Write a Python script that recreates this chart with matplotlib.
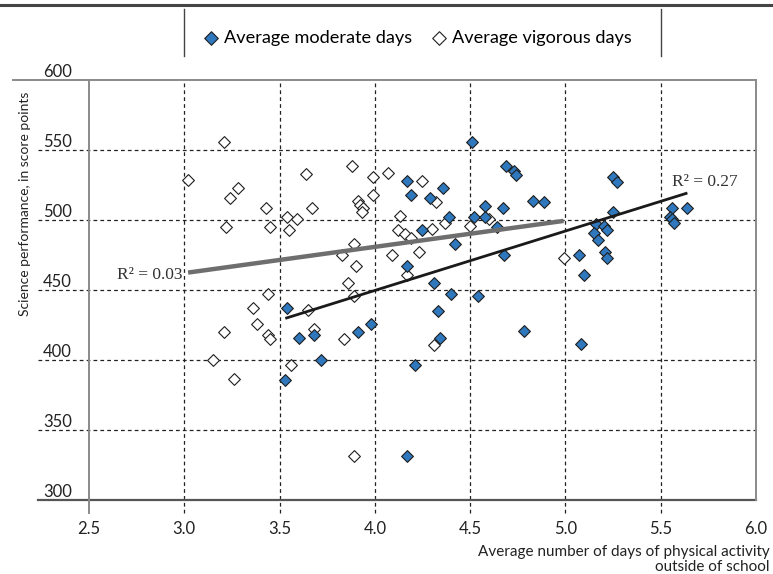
import numpy as np
import matplotlib
matplotlib.use("Agg")
import matplotlib.pyplot as plt
from matplotlib.lines import Line2D

# Average number of days of moderate physical activity and science score, per country
moderate_days = [4.51, 4.69, 4.73, 4.74, 4.17, 4.36, 4.19, 4.29, 4.58, 4.67,
                 4.83, 4.89, 4.39, 4.52, 4.58, 4.64, 4.25, 4.42, 4.68, 4.17,
                 4.31, 4.40, 4.54, 4.33, 3.54, 3.60, 3.68, 3.91, 3.98, 3.72,
                 3.53, 4.34, 4.21, 4.78, 4.17, 5.25, 5.27, 5.25, 5.56, 5.64,
                 5.55, 5.56, 5.57, 5.16, 5.20, 5.22, 5.15, 5.17, 5.07, 5.21,
                 5.22, 5.10, 5.08]
moderate_score = [556, 539, 535, 532, 528, 523, 518, 516, 510, 509,
                  514, 513, 502, 502, 502, 495, 493, 483, 475, 467,
                  455, 447, 446, 435, 437, 416, 418, 420, 426, 400,
                  386, 416, 397, 421, 332, 531, 527, 506, 509, 509,
                  502, 501, 498, 497, 496, 493, 491, 486, 475, 477,
                  473, 461, 412]

# Average number of days of vigorous physical activity and science score, per country
vigorous_days = [3.21, 3.02, 3.28, 3.24, 3.43, 3.64, 3.67, 3.54, 3.59, 3.22,
                 3.45, 3.55, 3.44, 3.36, 3.65, 3.38, 3.21, 3.44, 3.45, 3.68,
                 3.15, 3.26, 3.56, 3.88, 3.99, 4.07, 4.25, 3.91, 3.92, 3.94,
                 3.93, 3.99, 4.32, 4.13, 4.12, 4.16, 4.19, 4.30, 4.37, 4.50,
                 4.60, 3.89, 3.83, 4.09, 4.23, 3.90, 4.17, 3.86, 3.89, 3.84,
                 4.31, 3.89, 4.99]
vigorous_score = [556, 529, 523, 516, 509, 533, 509, 502, 501, 495,
                  495, 493, 447, 437, 436, 426, 420, 418, 415, 422,
                  400, 387, 397, 539, 531, 534, 528, 514, 511, 509,
                  506, 518, 513, 503, 493, 490, 487, 494, 498, 496,
                  501, 483, 475, 475, 477, 467, 461, 455, 446, 415,
                  411, 332, 473]

r2_labels = ["R\u00b2 = 0.27", "R\u00b2 = 0.03"]
legend_labels = ["Average moderate days", "Average vigorous days"]
x_ticks = [2.5, 3.0, 3.5, 4.0, 4.5, 5.0, 5.5, 6.0]
y_ticks = [300, 350, 400, 450, 500, 550, 600]
x_label = "Average number of days of physical activity\noutside of school"
y_label = "Science performance, in score points"

BLUE = "#2f78bd"
EDGE = "#1e1e1e"
SANS = ["Lato", "DejaVu Sans"]
SERIF = ["Liberation Serif", "DejaVu Serif"]

plt.rcParams["font.family"] = SANS

fig = plt.figure(figsize=(7.73, 5.74), dpi=100)
ax = fig.add_axes([89 / 773, 1 - 500.5 / 574, 667 / 773, 420.5 / 574])
ax.set_xlim(x_ticks[0], x_ticks[-1])
ax.set_ylim(y_ticks[0], y_ticks[-1])

# spines
for side in ("top", "bottom"):
    ax.spines[side].set_visible(False)
ax.spines["left"].set_color("#8a8a8a")
ax.spines["left"].set_linewidth(1.4)
ax.spines["right"].set_color("#8a8a8a")
ax.spines["right"].set_linewidth(1.4)

xt = ax.get_xaxis_transform()
yt = ax.get_yaxis_transform()

# dashed grid, extended slightly outside the axes
for xv in x_ticks[1:-1]:
    ax.plot([xv, xv], [-0.029, 1], transform=xt, color="#222222", lw=0.9,
            ls=(0, (3, 2.5)), clip_on=False, zorder=1)
for yv in y_ticks[1:-1]:
    ax.plot([-0.077, 1], [yv, yv], transform=yt, color="#222222", lw=0.9,
            ls=(0, (3, 2.5)), clip_on=False, zorder=1)
ax.plot([-0.1145, 1], [y_ticks[-1]] * 2, transform=yt, color="#8a8a8a",
        lw=1.4, clip_on=False, zorder=2)
ax.plot([-0.077, 1], [y_ticks[0]] * 2, transform=yt, color="#555555",
        lw=1.6, clip_on=False, zorder=2)
ax.plot([x_ticks[0]] * 2, [-0.029, 0], transform=xt, color="#8a8a8a",
        lw=1.4, clip_on=False, zorder=2)

ax.set_xticks(x_ticks)
ax.set_xticklabels([f"{v:.1f}" for v in x_ticks])
ax.set_yticks(y_ticks)
ax.set_yticklabels([str(v) for v in y_ticks])
ax.tick_params(axis="x", length=0, pad=15, labelsize=12, labelcolor="#222222")
ax.tick_params(axis="y", length=0, pad=33, labelsize=12, labelcolor="#222222")
for lab in ax.get_yticklabels():
    lab.set_horizontalalignment("left")
    lab.set_verticalalignment("bottom")

# scatter series
hv = ax.scatter(vigorous_days, vigorous_score, marker="D", s=36,
                facecolor="white", edgecolor=EDGE, linewidth=0.8, zorder=3)
hm = ax.scatter(moderate_days, moderate_score, marker="D", s=36,
                facecolor=BLUE, edgecolor=EDGE, linewidth=0.8, zorder=4)

# linear trends over each series' range
vx = np.array(vigorous_days)
mx = np.array(moderate_days)
cv = np.polyfit(vx, vigorous_score, 1)
cm = np.polyfit(mx, moderate_score, 1)
xv_line = np.array([vx.min(), vx.max()])
xm_line = np.array([mx.min(), mx.max()])
ax.plot(xv_line, np.polyval(cv, xv_line), color="#6e6e6e", lw=3.2,
        solid_capstyle="butt", zorder=5)
ax.plot(xm_line, np.polyval(cm, xm_line), color="#1a1a1a", lw=2.0,
        solid_capstyle="butt", zorder=5)

ax.annotate(r2_labels[0], (xm_line[1], np.polyval(cm, xm_line[1])),
            xytext=(-11, 8), textcoords="offset points", ha="left",
            va="center", fontsize=12.5, family=SERIF, color="#333333")
ax.annotate(r2_labels[1], (xv_line[0], np.polyval(cv, xv_line[0])),
            xytext=(-4, -2), textcoords="offset points", ha="right",
            va="center", fontsize=12.5, family=SERIF, color="#333333")

ax.set_xlabel(x_label, fontsize=11, ha="right", color="#222222",
              linespacing=1.15)
ax.xaxis.set_label_coords(1.02, -0.105)
# y title hangs from the top of the axis
ax.set_ylabel(y_label, fontsize=10, color="#222222", ha="right")
ax.yaxis.set_label_coords(-0.087, 0.972)

# legend band at the top
fig.legend([hm, hv], legend_labels, loc="center",
           bbox_to_anchor=(0.5395, 1 - 38 / 574), ncol=2, frameon=False,
           fontsize=13.1, handlelength=1.0, handletextpad=0.2,
           columnspacing=1.0, borderaxespad=0, scatterpoints=1,
           markerscale=1.15)
fig.add_artist(Line2D([0, 1], [1 - 5 / 574] * 2, color="#444444", lw=2.2))
for xp in (184, 661):
    fig.add_artist(Line2D([xp / 773] * 2, [1 - 9 / 574, 1 - 56 / 574],
                          color="#444444", lw=1.0))

fig.savefig("out.png", dpi=100)
